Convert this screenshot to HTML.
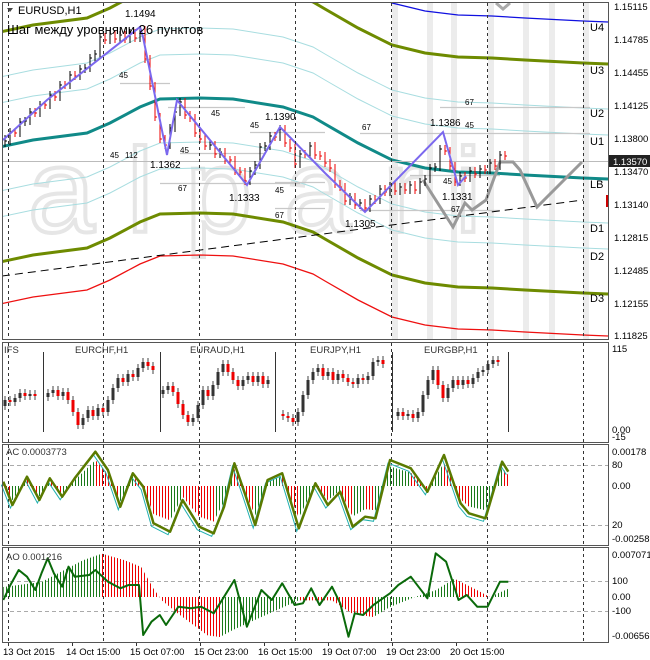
<!DOCTYPE html>
<html><head><meta charset="utf-8"><style>
html,body{margin:0;padding:0;background:#fff;}
svg{display:block;font-family:"Liberation Sans",sans-serif;}
</style></head><body>
<svg width="650" height="660" viewBox="0 0 650 660" xmlns="http://www.w3.org/2000/svg" xmlns:xlink="http://www.w3.org/1999/xlink">
<defs>
<clipPath id="cm"><rect x="3" y="3" width="605" height="336"/></clipPath>
<polyline id="tb" points="0,147 33,140 87,133 110,123 140,107 160,99 200,98 233,99 283,107 313,117 325,124 358,143 392,160 425,168 458,172 492,173 525,175 583,178 608,179" fill="none"/>
<pattern id="pg" width="3" height="10" patternUnits="userSpaceOnUse"><rect width="1" height="10" fill="#1a7a1a"/></pattern>
<pattern id="pr" width="3" height="10" patternUnits="userSpaceOnUse"><rect width="1" height="10" fill="#ee0000"/></pattern>
<clipPath id="acr"><rect x="3" y="0" width="9" height="1000"/><rect x="27" y="0" width="12" height="1000"/><rect x="50" y="0" width="12" height="1000"/><rect x="95" y="0" width="25" height="1000"/><rect x="133" y="0" width="37" height="1000"/><rect x="183" y="0" width="31" height="1000"/><rect x="234" y="0" width="21" height="1000"/><rect x="282" y="0" width="17" height="1000"/><rect x="315" y="0" width="13" height="1000"/><rect x="340" y="0" width="13" height="1000"/><rect x="365" y="0" width="10" height="1000"/><rect x="410" y="0" width="17" height="1000"/><rect x="444" y="0" width="25" height="1000"/><rect x="502" y="0" width="7" height="1000"/></clipPath>
<clipPath id="aor"><rect x="102" y="0" width="118" height="1000"/><rect x="300" y="0" width="73" height="1000"/><rect x="454" y="0" width="36" height="1000"/></clipPath>
</defs>
<rect x="0" y="0" width="650" height="660" fill="#fff"/>
<g fill="#ececec">
<rect x="392" y="3" width="6" height="336"/><rect x="427" y="3" width="6" height="336"/><rect x="451" y="3" width="6" height="336"/><rect x="488" y="3" width="6" height="336"/><rect x="523" y="3" width="6" height="336"/><rect x="549" y="3" width="6" height="336"/><rect x="583" y="3" width="6" height="336"/>
</g>
<text x="28" y="232" font-size="120" fill="none" stroke="#e6e6e6" stroke-width="4" letter-spacing="32">alpari</text>
<g clip-path="url(#cm)">
<use xlink:href="#tb" href="#tb" stroke="#a8dde0" stroke-width="1" transform="translate(0,-70)"/>
<use xlink:href="#tb" href="#tb" stroke="#a8dde0" stroke-width="1" transform="translate(0,-44)"/>
<use xlink:href="#tb" href="#tb" stroke="#a8dde0" stroke-width="1" transform="translate(0,44)"/>
<use xlink:href="#tb" href="#tb" stroke="#a8dde0" stroke-width="1" transform="translate(0,70)"/>
<use xlink:href="#tb" href="#tb" stroke="#6e8b00" stroke-width="3" transform="translate(0,-115)"/>
<use xlink:href="#tb" href="#tb" stroke="#6e8b00" stroke-width="3" transform="translate(0,115)"/>
<use xlink:href="#tb" href="#tb" stroke="#1010e0" stroke-width="1.3" transform="translate(0,-157)"/>
<use xlink:href="#tb" href="#tb" stroke="#ee1010" stroke-width="1.3" transform="translate(0,157)"/>
<use xlink:href="#tb" href="#tb" stroke="#108a88" stroke-width="3"/>
<line x1="3" y1="161.5" x2="608" y2="161.5" stroke="#bbb"/>
<g stroke="#c8c8c8" stroke-width="1.3">
<line x1="120" y1="83.5" x2="170" y2="83.5"/><line x1="168" y1="107.5" x2="245" y2="107.5"/><line x1="180" y1="153.5" x2="265" y2="153.5"/><line x1="160" y1="183.5" x2="300" y2="183.5"/><line x1="275" y1="182.5" x2="325" y2="182.5"/><line x1="275" y1="208.5" x2="325" y2="208.5"/><line x1="250" y1="132.5" x2="325" y2="132.5"/><line x1="360" y1="133.5" x2="590" y2="133.5"/><line x1="440" y1="107.5" x2="590" y2="107.5"/><line x1="410" y1="175.5" x2="500" y2="175.5"/><line x1="360" y1="210.5" x2="500" y2="210.5"/>
</g>
<line x1="2" y1="276" x2="583" y2="200" stroke="#000" stroke-dasharray="8,5"/>
<polyline points="423,180 453,227 465,203 472,210 486,200 500,162 513,162 520,170 537,207 582,162" fill="none" stroke="#999" stroke-width="3"/>
<polyline points="496,3 503,9 510,3" fill="none" stroke="#aaa" stroke-width="3"/>
<path fill="none" stroke="#000" stroke-width="1" d="M5,135V147M5,141h2M10,128V145M10,132h2M20,118V137M20,122h2M25,117V126M25,121h2M30,108V125M30,112h2M40,101V117M40,105h2M50,91V109M50,95h2M60,81V101M60,85h2M70,71V89M70,75h2M80,65V80M80,69h2M85,64V73M85,68h2M90,54V72M90,58h2M95,50V62M95,54h2M100,33V58M100,37h2M110,30V44M110,34h2M120,31V43M120,35h2M130,29V43M130,33h2M140,26V42M140,30h2M170,124V149M170,128h2M175,108V132M175,112h2M180,98V116M180,102h2M210,141V150M210,145h2M220,148V158M220,152h2M250,167V185M250,171h2M255,161V175M255,165h2M260,143V169M260,147h2M265,142V151M265,146h2M270,132V150M270,136h2M280,125V141M280,129h2M300,150V168M300,154h2M310,142V158M310,146h2M350,193V205M350,197h2M360,199V209M360,203h2M370,195V212M370,199h2M380,185V204M380,189h2M390,182V196M390,186h2M400,183V195M400,187h2M410,181V194M410,185h2M420,178V194M420,182h2M425,175V186M425,179h2M430,164V183M430,168h2M435,163V172M435,167h2M440,145V171M440,149h2M460,172V186M460,176h2M470,167V182M470,171h2M480,165V178M480,169h2M490,159V174M490,163h2M500,151V170M500,155h2"/>
<path fill="none" stroke="#e00" stroke-width="1" d="M15,128V137M15,133h2M35,108V117M35,113h2M45,101V109M45,105h2M55,91V101M55,97h2M65,81V89M65,85h2M75,71V80M75,76h2M105,33V44M105,40h2M115,30V43M115,39h2M125,31V43M125,39h2M135,29V42M135,38h2M145,26V63M145,59h2M150,55V90M150,86h2M155,82V121M155,117h2M160,113V143M160,139h2M165,135V149M165,145h2M185,98V119M185,115h2M190,111V122M190,118h2M195,114V137M195,133h2M200,129V143M200,139h2M205,135V150M205,146h2M215,141V158M215,154h2M225,148V164M225,160h2M230,156V164M230,160h2M235,156V175M235,171h2M240,167V176M240,172h2M245,168V185M245,181h2M275,132V141M275,137h2M285,125V147M285,143h2M290,139V152M290,148h2M295,144V168M295,164h2M305,150V158M305,154h2M315,142V159M315,155h2M320,151V160M320,156h2M325,152V167M325,163h2M330,159V172M330,168h2M335,164V188M335,184h2M340,180V191M340,187h2M345,183V205M345,201h2M355,193V209M355,205h2M365,199V212M365,208h2M375,195V204M375,200h2M385,185V196M385,192h2M395,182V195M395,191h2M405,183V194M405,190h2M415,181V194M415,190h2M445,145V155M445,151h2M450,147V170M450,166h2M455,162V186M455,182h2M465,172V182M465,178h2M475,167V178M475,174h2M485,165V174M485,170h2M495,159V170M495,166h2M505,151V160M505,156h2"/>
<polyline points="3,140 47,100 140,27 143,37 167,155 177,100 247,185 280,127 325,173 365,212 443,132 458,185 466,176" fill="none" stroke="#7b68ee" stroke-width="2"/>
</g>
<!-- grid dashed -->
<g stroke="#333" stroke-dasharray="3,3">
<path d="M8.5,3V339M103.5,3V339M199.5,3V339M295.5,3V339M391.5,3V339M487.5,3V339M583.5,3V339"/>
<path d="M8.5,343V442M103.5,343V442M199.5,343V442M295.5,343V442M391.5,343V442M487.5,343V442M583.5,343V442"/>
<path d="M8.5,445V545M103.5,445V545M199.5,445V545M295.5,445V545M391.5,445V545M487.5,445V545M583.5,445V545"/>
<path d="M8.5,548V642M103.5,548V642M199.5,548V642M295.5,548V642M391.5,548V642M487.5,548V642M583.5,548V642"/>
</g>
<path stroke="#333" d="M8.5,642V646M72.5,642V646M136.5,642V646M200.5,642V646M264.5,642V646M328.5,642V646M392.5,642V646M456.5,642V646"/>
<!-- IFS -->
<path stroke="#333" d="M43.5,352V432M160.5,352V432M275.5,352V432M392.5,352V432M508.5,352V432"/>
<path fill="none" stroke="#444" d="M5,396V410M10,396V406M15,394V406M20,389V402M25,389V400M30,390V400M35,390V400M48,389V401M53,386V397M58,386V400M63,388V400M68,388V404M73,396V416M78,408V429M83,414V429M88,406V422M93,406V420M98,404V420M103,404V416M108,396V416M113,384V404M118,374V392M123,374V386M128,370V386M133,370V381M138,364V381M143,358V372M148,358V370M153,362V374M163,386V398M168,382V394M173,382V396M178,388V408M183,400V419M188,411V426M193,414V426M198,401V422M203,386V409M208,386V400M213,381V400M218,368V389M223,360V376M228,360V376M233,368V384M238,376V390M243,376V390M248,372V384M253,372V386M258,372V386M263,372V388M268,376V388M283,410V420M288,412V422M293,414V426M298,408V426M303,391V416M308,376V399M313,368V384M318,364V376M323,364V380M328,368V380M333,368V384M338,370V384M343,370V382M348,374V386M353,378V388M358,374V388M363,374V384M368,372V384M373,358V380M378,356V366M383,356V368M398,408V420M403,408V420M408,410V420M413,410V422M418,408V422M423,391V416M428,376V399M433,366V384M438,366V389M443,381V402M448,384V402M453,376V392M458,376V389M463,376V389M468,376V388M473,374V388M478,368V382M483,366V376M488,360V374M493,356V368M498,356V366"/>
<path fill="#333" d="M3.5,400h3v6h-3zM13.5,398h3v4h-3zM18.5,393h3v5h-3zM28.5,394h3v2h-3zM46.5,393h3v4h-3zM51.5,390h3v3h-3zM61.5,392h3v4h-3zM81.5,418h3v7h-3zM86.5,410h3v8h-3zM96.5,408h3v8h-3zM106.5,400h3v12h-3zM111.5,388h3v12h-3zM116.5,378h3v10h-3zM126.5,374h3v8h-3zM136.5,368h3v9h-3zM141.5,362h3v6h-3zM161.5,390h3v4h-3zM166.5,386h3v4h-3zM191.5,418h3v4h-3zM196.5,405h3v13h-3zM201.5,390h3v15h-3zM211.5,385h3v11h-3zM216.5,372h3v13h-3zM221.5,364h3v8h-3zM241.5,380h3v6h-3zM246.5,376h3v4h-3zM256.5,376h3v6h-3zM266.5,380h3v4h-3zM296.5,412h3v10h-3zM301.5,395h3v17h-3zM306.5,380h3v15h-3zM311.5,372h3v8h-3zM316.5,368h3v4h-3zM326.5,372h3v4h-3zM336.5,374h3v6h-3zM356.5,378h3v6h-3zM366.5,376h3v4h-3zM371.5,362h3v14h-3zM376.5,360h3v2h-3zM396.5,412h3v4h-3zM406.5,414h3v2h-3zM416.5,412h3v6h-3zM421.5,395h3v17h-3zM426.5,380h3v15h-3zM431.5,370h3v10h-3zM446.5,388h3v10h-3zM451.5,380h3v8h-3zM461.5,380h3v5h-3zM471.5,378h3v6h-3zM476.5,372h3v6h-3zM481.5,370h3v2h-3zM486.5,364h3v6h-3zM491.5,360h3v4h-3z"/>
<path fill="#e00" d="M8.5,400h3v2h-3zM23.5,393h3v3h-3zM33.5,394h3v2h-3zM56.5,390h3v6h-3zM66.5,392h3v8h-3zM71.5,400h3v12h-3zM76.5,412h3v13h-3zM91.5,410h3v6h-3zM101.5,408h3v4h-3zM121.5,378h3v4h-3zM131.5,374h3v3h-3zM146.5,362h3v4h-3zM151.5,366h3v4h-3zM171.5,386h3v6h-3zM176.5,392h3v12h-3zM181.5,404h3v11h-3zM186.5,415h3v7h-3zM206.5,390h3v6h-3zM226.5,364h3v8h-3zM231.5,372h3v8h-3zM236.5,380h3v6h-3zM251.5,376h3v6h-3zM261.5,376h3v8h-3zM281.5,414h3v2h-3zM286.5,416h3v2h-3zM291.5,418h3v4h-3zM321.5,368h3v8h-3zM331.5,372h3v8h-3zM341.5,374h3v4h-3zM346.5,378h3v4h-3zM351.5,382h3v2h-3zM361.5,378h3v2h-3zM381.5,360h3v4h-3zM401.5,412h3v4h-3zM411.5,414h3v4h-3zM436.5,370h3v15h-3zM441.5,385h3v13h-3zM456.5,380h3v5h-3zM466.5,380h3v4h-3zM496.5,360h3v2h-3z"/>
<!-- AC -->
<line x1="3" y1="465.5" x2="608" y2="465.5" stroke="#aaa" stroke-dasharray="4,3"/>
<line x1="3" y1="525.5" x2="608" y2="525.5" stroke="#aaa" stroke-dasharray="4,3"/>
<g transform="matrix(1,0,0,0.75,0,121.5)">
<polygon fill="url(#pg)" points="3.3,486 3.3,481.7 12.4,505 27,476.7 39.4,500 49.8,478.3 62.2,496.7 74.7,478.3 95.4,451.7 107.9,470 120.3,506.7 132.8,473.3 143.2,486.7 153.5,523.3 170.1,531.7 182.6,500 199.2,526.7 213.7,533.3 224.1,506.7 234.4,463.3 244.8,493.3 255.2,525 267.6,480 282.2,473.3 298.8,528.3 315.4,483.3 327.8,505 340.2,491.7 352.7,526.7 365.1,516.7 375.5,518.3 390,460 410.8,468.3 427.4,491.7 444,455 460.6,503.3 468.9,513.3 485.5,518.3 502.1,461.7 508.3,471.7 508.3,486"/>
<polygon fill="url(#pr)" clip-path="url(#acr)" points="3.3,486 3.3,481.7 12.4,505 27,476.7 39.4,500 49.8,478.3 62.2,496.7 74.7,478.3 95.4,451.7 107.9,470 120.3,506.7 132.8,473.3 143.2,486.7 153.5,523.3 170.1,531.7 182.6,500 199.2,526.7 213.7,533.3 224.1,506.7 234.4,463.3 244.8,493.3 255.2,525 267.6,480 282.2,473.3 298.8,528.3 315.4,483.3 327.8,505 340.2,491.7 352.7,526.7 365.1,516.7 375.5,518.3 390,460 410.8,468.3 427.4,491.7 444,455 460.6,503.3 468.9,513.3 485.5,518.3 502.1,461.7 508.3,471.7 508.3,486"/>
</g>
<polyline fill="none" stroke="#20b0b0" stroke-width="1" transform="translate(-2,3)" points="3.3,481.7 12.4,505 27,476.7 39.4,500 49.8,478.3 62.2,496.7 74.7,478.3 95.4,451.7 107.9,470 120.3,506.7 132.8,473.3 143.2,486.7 153.5,523.3 170.1,531.7 182.6,500 199.2,526.7 213.7,533.3 224.1,506.7 234.4,463.3 244.8,493.3 255.2,525 267.6,480 282.2,473.3 298.8,528.3 315.4,483.3 327.8,505 340.2,491.7 352.7,526.7 365.1,516.7 375.5,518.3 390,460 410.8,468.3 427.4,491.7 444,455 460.6,503.3 468.9,513.3 485.5,518.3 502.1,461.7 508.3,471.7"/>
<polyline fill="none" stroke="#5a7a00" stroke-width="2.5" stroke-linejoin="round" points="3.3,481.7 12.4,505 27,476.7 39.4,500 49.8,478.3 62.2,496.7 74.7,478.3 95.4,451.7 107.9,470 120.3,506.7 132.8,473.3 143.2,486.7 153.5,523.3 170.1,531.7 182.6,500 199.2,526.7 213.7,533.3 224.1,506.7 234.4,463.3 244.8,493.3 255.2,525 267.6,480 282.2,473.3 298.8,528.3 315.4,483.3 327.8,505 340.2,491.7 352.7,526.7 365.1,516.7 375.5,518.3 390,460 410.8,468.3 427.4,491.7 444,455 460.6,503.3 468.9,513.3 485.5,518.3 502.1,461.7 508.3,471.7"/>
<!-- AO -->
<line x1="3" y1="581.5" x2="608" y2="581.5" stroke="#aaa" stroke-dasharray="4,3"/>
<line x1="3" y1="611.5" x2="608" y2="611.5" stroke="#aaa" stroke-dasharray="4,3"/>
<polygon fill="url(#pg)" points="3.3,597 3.3,587 41.5,582 83,560.3 101.7,553.7 124.5,560.3 141.1,567 153.5,588.7 161.8,600.3 178.4,613.7 207.5,635.3 219.9,637 232.4,630.3 261.4,617 298.8,600.3 332,600.3 352.7,613.7 373.4,617 390,607 414.9,597 435.7,590.3 454.4,578.7 477.2,590.3 489.6,597 508.3,588.7 508.3,597"/>
<polygon fill="url(#pr)" clip-path="url(#aor)" points="3.3,597 3.3,587 41.5,582 83,560.3 101.7,553.7 124.5,560.3 141.1,567 153.5,588.7 161.8,600.3 178.4,613.7 207.5,635.3 219.9,637 232.4,630.3 261.4,617 298.8,600.3 332,600.3 352.7,613.7 373.4,617 390,607 414.9,597 435.7,590.3 454.4,578.7 477.2,590.3 489.6,597 508.3,588.7 508.3,597"/>
<polyline fill="none" stroke="#0a6a0a" stroke-width="2" stroke-linejoin="round" points="3.3,600 10.4,585 18.7,570 27,576.7 35.3,590 41.5,573.3 47.7,558.3 53.9,573.3 62.2,586.7 68.5,566.7 74.7,576.7 89.2,575 95.4,570 107.9,581.7 120.3,588.3 128.6,585 139,585 143.2,635 151.5,621.7 159.8,615 166,625 178.4,606.7 190.9,608.3 201.2,606.7 213.7,613.3 224.1,596.7 234.4,580 246.9,626.7 261.4,590 271.8,600 282.2,583.3 294.6,605 302.9,603.3 311.2,588.3 319.5,605 332,586.7 340.2,603.3 348.5,636.7 354.8,613.3 363.1,615 373.4,605 390,593.3 398.3,585 410.8,576.7 427.4,598.3 435.7,553.3 446.1,561.7 458.5,600 466.8,595 477.2,606.7 487.6,606.7 500,581.7 508.3,581.7"/>
<!-- labels -->
<g font-size="10" fill="#000">
<path d="M7,8 L13,8 L10,12 Z" fill="#444"/>
<text x="18" y="14" font-size="11">EURUSD,H1</text>
<text x="7" y="34" font-size="13">Шаг между уровнями 26 пунктов</text>
<text x="125" y="17">1.1494</text>
<text x="150" y="168">1.1362</text>
<text x="229" y="201">1.1333</text>
<text x="265" y="120">1.1390</text>
<text x="345" y="227">1.1305</text>
<text x="430" y="126">1.1386</text>
<text x="442" y="200">1.1331</text>
<g font-size="8">
<text x="119" y="78">45</text><text x="110" y="158">45</text><text x="125" y="158">112</text>
<text x="178" y="191">67</text><text x="180" y="153">45</text><text x="211" y="116">45</text>
<text x="250" y="128">45</text><text x="275" y="193">45</text><text x="275" y="218">67</text>
<text x="362" y="130">67</text><text x="465" y="105">67</text><text x="465" y="128">45</text>
<text x="443" y="184">45</text><text x="451" y="212">67</text>
</g>
<g font-size="11">
<text x="590" y="31">U4</text><text x="590" y="74">U3</text><text x="590" y="117">U2</text>
<text x="590" y="145">U1</text><text x="590" y="188">LB</text><text x="590" y="232">D1</text>
<text x="590" y="260">D2</text><text x="590" y="302">D3</text>
</g>
</g>
<g font-size="9.5" fill="#000">
<text x="614" y="10">1.15115</text><text x="614" y="43">1.14785</text><text x="614" y="76">1.14455</text>
<text x="614" y="109">1.14125</text><text x="614" y="142">1.13800</text><text x="614" y="175">1.13470</text>
<text x="614" y="208">1.13140</text><text x="614" y="241">1.12815</text><text x="614" y="274">1.12485</text>
<text x="614" y="307">1.12155</text><text x="614" y="339">1.11825</text>
<rect x="609" y="155" width="41" height="12" fill="#222"/>
<text x="613" y="165" fill="#fff">1.13570</text>
<rect x="606" y="195" width="3" height="12" fill="#c00"/>
<text x="4" y="353" fill="#333">IFS</text>
<text x="75" y="353" fill="#333">EURCHF,H1</text><text x="190" y="353" fill="#333">EURAUD,H1</text>
<text x="310" y="353" fill="#333">EURJPY,H1</text><text x="424" y="353" fill="#333">EURGBP,H1</text>
<text x="612" y="352">115</text><text x="612" y="433">0.00</text><text x="612" y="440">-15</text>
<text x="6" y="455" fill="#333">AC 0.0003773</text>
<text x="612" y="455">0.00178</text><text x="612" y="468">80</text><text x="612" y="489">0.00</text>
<text x="612" y="528">20</text><text x="612" y="542">-0.00258</text>
<text x="6" y="560" fill="#333">AO 0.001216</text>
<text x="612" y="558">0.007071</text><text x="612" y="584">100</text><text x="612" y="600">0.00</text>
<text x="612" y="614">-100</text><text x="612" y="639">-0.006562</text>
<text x="3" y="655">13 Oct 2015</text><text x="66" y="655">14 Oct 15:00</text><text x="130" y="655">15 Oct 07:00</text>
<text x="194" y="655">15 Oct 23:00</text><text x="258" y="655">16 Oct 15:00</text><text x="322" y="655">19 Oct 07:00</text>
<text x="386" y="655">19 Oct 23:00</text><text x="450" y="655">20 Oct 15:00</text>
</g>
<g fill="none" stroke="#555" stroke-width="1">
<rect x="2.5" y="2.5" width="606" height="337"/>
<rect x="2.5" y="342.5" width="606" height="100"/>
<rect x="2.5" y="444.5" width="606" height="101"/>
<rect x="2.5" y="547.5" width="606" height="95"/>
</g>
</svg>
</body></html>
